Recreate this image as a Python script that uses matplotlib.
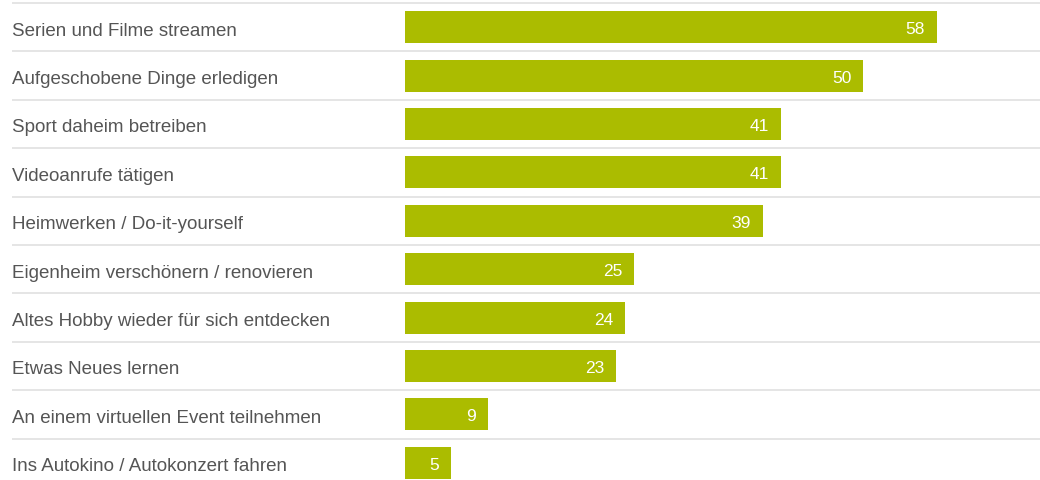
import matplotlib.pyplot as plt
from matplotlib.transforms import blended_transform_factory, offset_copy

# Data
categories = [
    "Serien und Filme streamen",
    "Aufgeschobene Dinge erledigen",
    "Sport daheim betreiben",
    "Videoanrufe tätigen",
    "Heimwerken / Do-it-yourself",
    "Eigenheim verschönern / renovieren",
    "Altes Hobby wieder für sich entdecken",
    "Etwas Neues lernen",
    "An einem virtuellen Event teilnehmen",
    "Ins Autokino / Autokonzert fahren",
]
values = [58, 50, 41, 41, 39, 25, 24, 23, 9, 5]

bar_color = "#abbc00"
label_color = "#555555"
line_color = "#e0e0e0"

plt.rcParams['font.family'] = ['Liberation Sans', 'DejaVu Sans']

fig = plt.figure(figsize=(10.4, 4.8), dpi=100)
# bars start at x=405px, axes runs to the right edge
ax = fig.add_axes([405 / 1040, 0, 1 - 405 / 1040, 1])
ax.set_xlim(0, 69.25)
ax.set_ylim((480 - 3) / 48.4, -3 / 48.4)
ax.axis('off')

n = len(categories)
ypos = [i + 0.5 for i in range(n)]
ax.barh(ypos, values, height=0.66, color=bar_color, zorder=2)

trans = blended_transform_factory(fig.transFigure, ax.transData)

# row separators
ax.hlines(range(n), 12 / 1040, 1.0, transform=trans, colors=line_color,
          linewidth=1.2, clip_on=False, zorder=1)

# category labels
for y, cat in zip(ypos, categories):
    ax.text(12 / 1040, y + 0.08, cat, transform=trans, ha='left', va='center',
            fontsize=13.5, color=label_color)

# value labels inside the bar end
val_trans = offset_copy(ax.transData, fig=fig, x=-12, y=0, units='dots')
for y, v in zip(ypos, values):
    ax.text(v, y + 0.05, str(v), transform=val_trans, ha='right', va='center',
            fontsize=12.5, color='white', zorder=3)

fig.savefig('out.png', dpi=100)
